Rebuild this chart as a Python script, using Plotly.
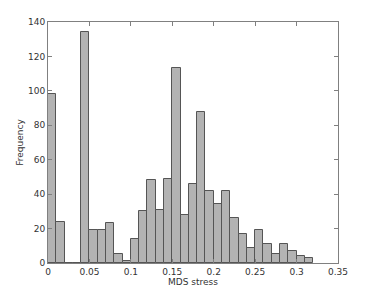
import plotly.graph_objects as go

bin_left = [i * 0.01 for i in range(32)]
counts = [98, 24, 0, 0, 134, 19, 19, 23, 5, 1, 14, 30, 48, 31, 49, 113,
          28, 46, 88, 42, 34, 42, 26, 17, 9, 19, 11, 5, 11, 7, 4, 3]
x_ticks = [0, 0.05, 0.1, 0.15, 0.2, 0.25, 0.3, 0.35]
x_tick_text = ["0", "0.05", "0.1", "0.15", "0.2", "0.25", "0.3", "0.35"]
y_ticks = [0, 20, 40, 60, 80, 100, 120, 140]

centers = [b + 0.005 for b in bin_left]

fig = go.Figure(go.Bar(
    x=centers, y=counts, width=0.01,
    marker=dict(color="#b3b3b3", line=dict(color="#555555", width=1)),
))

font = dict(family="DejaVu Sans", size=9, color="#333333")
fig.update_layout(
    width=358, height=279,
    margin=dict(l=40, r=28, t=14, b=24, autoexpand=False),
    paper_bgcolor="white", plot_bgcolor="white",
    showlegend=False, bargap=0,
    font=font,
)
fig.update_xaxes(
    range=[0, 0.35], tickvals=x_ticks, ticktext=x_tick_text,
    ticks="inside", ticklen=4, tickcolor="#808080",
    showline=True, linecolor="#808080", linewidth=1, mirror="ticks",
    showgrid=False, zeroline=False,
    title=dict(text="MDS stress", font=font, standoff=1),
)
fig.update_yaxes(
    range=[0, 140], tickvals=y_ticks,
    ticks="inside", ticklen=4, tickcolor="#808080",
    showline=True, linecolor="#808080", linewidth=1, mirror="ticks",
    showgrid=False, zeroline=False,
    title=dict(text="Frequency", font=font, standoff=2),
)
fig.write_html("out.html")
